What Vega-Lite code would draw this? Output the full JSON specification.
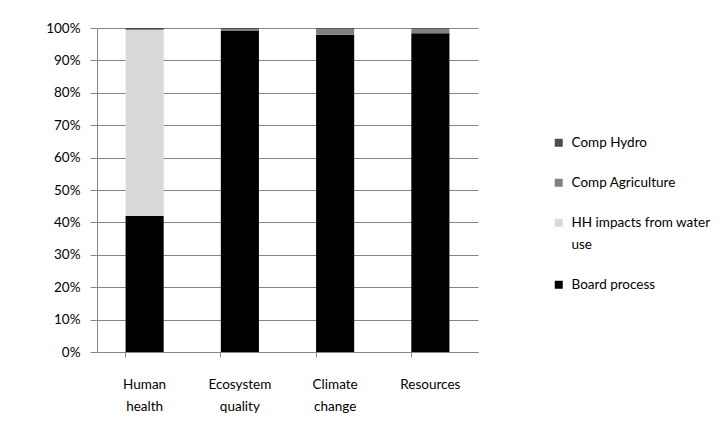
{
  "$schema": "https://vega.github.io/schema/vega-lite/v6.json",
  "width": 381,
  "height": 324,
  "autosize": "none",
  "padding": {"left": 97, "top": 28, "right": 249, "bottom": 87},
  "background": "white",
  "data": {
    "values": [
      {"category": "Human health", "source": "Board process", "value": 42.0, "idx": 1},
      {"category": "Human health", "source": "HH impacts from water use", "value": 57.4, "idx": 2},
      {"category": "Human health", "source": "Comp Agriculture", "value": 0.3, "idx": 3},
      {"category": "Human health", "source": "Comp Hydro", "value": 0.3, "idx": 4},
      {"category": "Ecosystem quality", "source": "Board process", "value": 99.2, "idx": 1},
      {"category": "Ecosystem quality", "source": "HH impacts from water use", "value": 0.0, "idx": 2},
      {"category": "Ecosystem quality", "source": "Comp Agriculture", "value": 0.5, "idx": 3},
      {"category": "Ecosystem quality", "source": "Comp Hydro", "value": 0.3, "idx": 4},
      {"category": "Climate change", "source": "Board process", "value": 97.9, "idx": 1},
      {"category": "Climate change", "source": "HH impacts from water use", "value": 0.0, "idx": 2},
      {"category": "Climate change", "source": "Comp Agriculture", "value": 1.9, "idx": 3},
      {"category": "Climate change", "source": "Comp Hydro", "value": 0.2, "idx": 4},
      {"category": "Resources", "source": "Board process", "value": 98.4, "idx": 1},
      {"category": "Resources", "source": "HH impacts from water use", "value": 0.0, "idx": 2},
      {"category": "Resources", "source": "Comp Agriculture", "value": 1.4, "idx": 3},
      {"category": "Resources", "source": "Comp Hydro", "value": 0.2, "idx": 4}
    ]
  },
  "mark": {"type": "bar"},
  "encoding": {
    "x": {
      "field": "category",
      "type": "nominal",
      "sort": ["Human health", "Ecosystem quality", "Climate change", "Resources"],
      "scale": {"paddingInner": 0.6, "paddingOuter": 0.3},
      "axis": {
        "title": null,
        "labelAngle": 0,
        "labelExpr": "split(datum.label, ' ')",
        "labelLineHeight": 22,
        "labelPadding": 20,
        "labelBaseline": "top",
        "bandPosition": 0,
        "tickSize": 5,
        "domainColor": "#868686",
        "tickColor": "#868686",
        "labelFont": "Lato",
        "labelFontSize": 13.5,
        "labelColor": "#000000",
        "grid": false
      }
    },
    "y": {
      "field": "value",
      "type": "quantitative",
      "stack": "normalize",
      "scale": {"domain": [0, 1]},
      "axis": {
        "title": null,
        "format": ".0%",
        "values": [0, 0.1, 0.2, 0.3, 0.4, 0.5, 0.6, 0.7, 0.8, 0.9, 1],
        "tickSize": 7,
        "labelPadding": 10,
        "domainColor": "#868686",
        "tickColor": "#868686",
        "gridColor": "#868686",
        "grid": true,
        "labelFont": "Lato",
        "labelFontSize": 13.5,
        "labelColor": "#000000"
      }
    },
    "color": {
      "field": "source",
      "type": "nominal",
      "scale": {
        "domain": ["Comp Hydro", "Comp Agriculture", "HH impacts from water use", "Board process"],
        "range": ["#4d4d4d", "#808080", "#d9d9d9", "#000000"]
      },
      "legend": {
        "title": null,
        "orient": "none",
        "legendX": 455,
        "legendY": 108,
        "symbolType": "square",
        "symbolSize": 64,
        "symbolStrokeWidth": 0,
        "labelFont": "Lato",
        "labelFontSize": 13.5,
        "labelColor": "#000000",
        "labelOffset": 6,
        "labelLimit": 300,
        "rowPadding": 25,
        "labelExpr": "datum.label == 'HH impacts from water use' ? ['HH impacts from water', 'use'] : datum.label"
      }
    },
    "order": {"field": "idx", "type": "quantitative"}
  },
  "config": {
    "view": {"stroke": null},
    "axis": {"domainWidth": 1, "tickWidth": 1, "gridWidth": 1},
    "style": {"guide-label": {"lineHeight": 22}}
  }
}
